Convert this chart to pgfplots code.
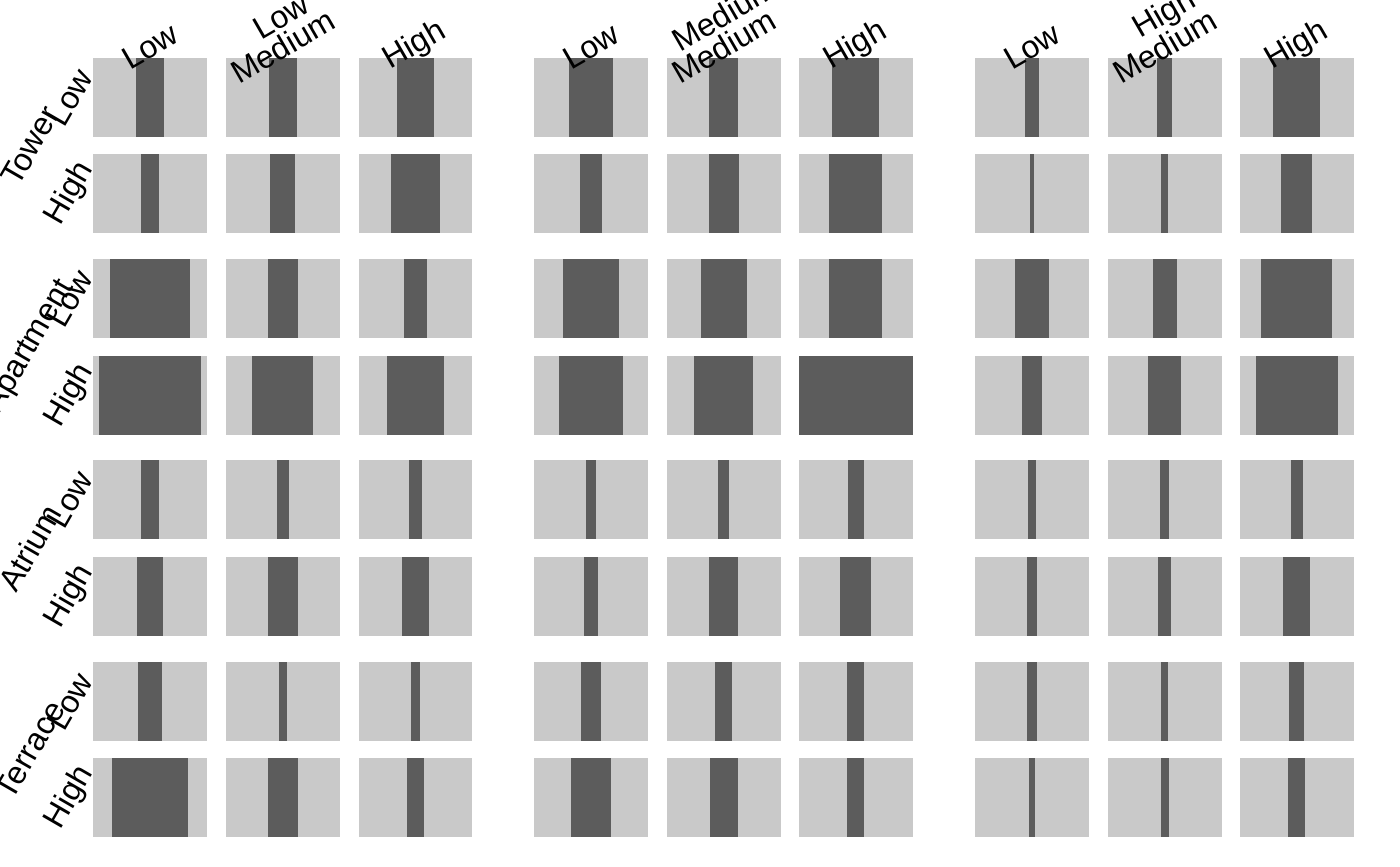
\documentclass[border=0pt]{standalone}
\usepackage{pgfplots}
\pgfplotsset{compat=1.18}
\usepackage{fontspec}
\setmainfont{Liberation Sans}
\definecolor{cellbg}{HTML}{C9C9C9}
\definecolor{cellfg}{HTML}{5C5C5C}

% left edges of the 9 columns and top edges of the 8 rows (px units)
\def\colx{{93,226,358.5,534,667,799,975,1108,1240}}
\def\rowy{{58,154,259,356,460,557,662,758}}

% \cellplot{row}{column}{bar width}
\newcommand\cellplot[3]{%
  \pgfmathsetmacro\xl{\colx[#2]}%
  \pgfmathsetmacro\xr{\xl+113.5}%
  \pgfmathsetmacro\xc{\xl+56.75}%
  \pgfmathsetmacro\bl{\xc-#3/2}%
  \pgfmathsetmacro\br{\xc+#3/2}%
  \pgfmathsetmacro\yt{\rowy[#1]}%
  \pgfmathsetmacro\yb{\yt+79}%
  \edef\doplot{%
    \noexpand\addplot[fill=cellbg,draw=none] coordinates {(\xl,\yt) (\xr,\yt) (\xr,\yb) (\xl,\yb)} -- cycle;%
    \noexpand\addplot[fill=cellfg,draw=none] coordinates {(\bl,\yt) (\br,\yt) (\br,\yb) (\bl,\yb)} -- cycle;%
  }\doplot}
\newcommand\labfont{\fontsize{16}{19}\selectfont}
\newcommand\collab[3]{\node[rotate=30,inner sep=0pt] at (axis cs:#1,#2) {\labfont #3};}
\newcommand\rowlab[3]{\node[rotate=60,inner sep=0pt] at (axis cs:#1,#2) {\labfont #3};}

\begin{document}
\begin{tikzpicture}
\begin{axis}[name=ax, scale only axis, width=700pt, height=433pt,
  xmin=0, xmax=1400, ymin=0, ymax=866, y dir=reverse,
  hide axis, clip=false]
% Tower Low
\cellplot{0}{0}{28}\cellplot{0}{1}{28}\cellplot{0}{2}{37}
\cellplot{0}{3}{44}\cellplot{0}{4}{29}\cellplot{0}{5}{47}
\cellplot{0}{6}{14}\cellplot{0}{7}{15}\cellplot{0}{8}{47}
% Tower High
\cellplot{1}{0}{18}\cellplot{1}{1}{25}\cellplot{1}{2}{49}
\cellplot{1}{3}{22}\cellplot{1}{4}{30}\cellplot{1}{5}{53}
\cellplot{1}{6}{4}\cellplot{1}{7}{7}\cellplot{1}{8}{31}
% Apartment Low
\cellplot{2}{0}{80}\cellplot{2}{1}{30}\cellplot{2}{2}{23}
\cellplot{2}{3}{56}\cellplot{2}{4}{46}\cellplot{2}{5}{53}
\cellplot{2}{6}{34}\cellplot{2}{7}{24}\cellplot{2}{8}{71}
% Apartment High
\cellplot{3}{0}{102}\cellplot{3}{1}{61}\cellplot{3}{2}{57}
\cellplot{3}{3}{64}\cellplot{3}{4}{59}\cellplot{3}{5}{113.5}
\cellplot{3}{6}{20}\cellplot{3}{7}{33}\cellplot{3}{8}{82}
% Atrium Low
\cellplot{4}{0}{18}\cellplot{4}{1}{12}\cellplot{4}{2}{13}
\cellplot{4}{3}{10}\cellplot{4}{4}{11}\cellplot{4}{5}{16}
\cellplot{4}{6}{8}\cellplot{4}{7}{9}\cellplot{4}{8}{12}
% Atrium High
\cellplot{5}{0}{26}\cellplot{5}{1}{30}\cellplot{5}{2}{27}
\cellplot{5}{3}{14}\cellplot{5}{4}{29}\cellplot{5}{5}{31}
\cellplot{5}{6}{10}\cellplot{5}{7}{13}\cellplot{5}{8}{27}
% Terrace Low
\cellplot{6}{0}{24}\cellplot{6}{1}{8}\cellplot{6}{2}{9}
\cellplot{6}{3}{20}\cellplot{6}{4}{17}\cellplot{6}{5}{17}
\cellplot{6}{6}{10}\cellplot{6}{7}{7}\cellplot{6}{8}{15}
% Terrace High
\cellplot{7}{0}{76}\cellplot{7}{1}{30}\cellplot{7}{2}{17}
\cellplot{7}{3}{40}\cellplot{7}{4}{28}\cellplot{7}{5}{17}
\cellplot{7}{6}{6}\cellplot{7}{7}{8}\cellplot{7}{8}{17}

% column labels (inner)
\collab{150}{46}{Low}\collab{283}{46}{Medium}\collab{415}{46}{High}
\collab{591}{46}{Low}\collab{724}{46}{Medium}\collab{856}{46}{High}
\collab{1032}{46}{Low}\collab{1165}{46}{Medium}\collab{1297}{46}{High}
% column labels (outer)
\collab{281}{16}{Low}\collab{724}{14}{Medium}\collab{1165}{15}{High}
% row labels (inner)
\rowlab{70}{97.5}{Low}\rowlab{70}{193.5}{High}
\rowlab{70}{298.5}{Low}\rowlab{70}{395.5}{High}
\rowlab{70}{499.5}{Low}\rowlab{70}{596.5}{High}
\rowlab{70}{701.5}{Low}\rowlab{70}{797.5}{High}
% row labels (outer)
\rowlab{30}{145.5}{Tower}\rowlab{30}{346.5}{Apartment}
\rowlab{30}{548}{Atrium}\rowlab{30}{749.5}{Terrace}
\end{axis}
\pgfresetboundingbox
\path (ax.south west) rectangle (ax.north east);
\end{tikzpicture}
\end{document}
